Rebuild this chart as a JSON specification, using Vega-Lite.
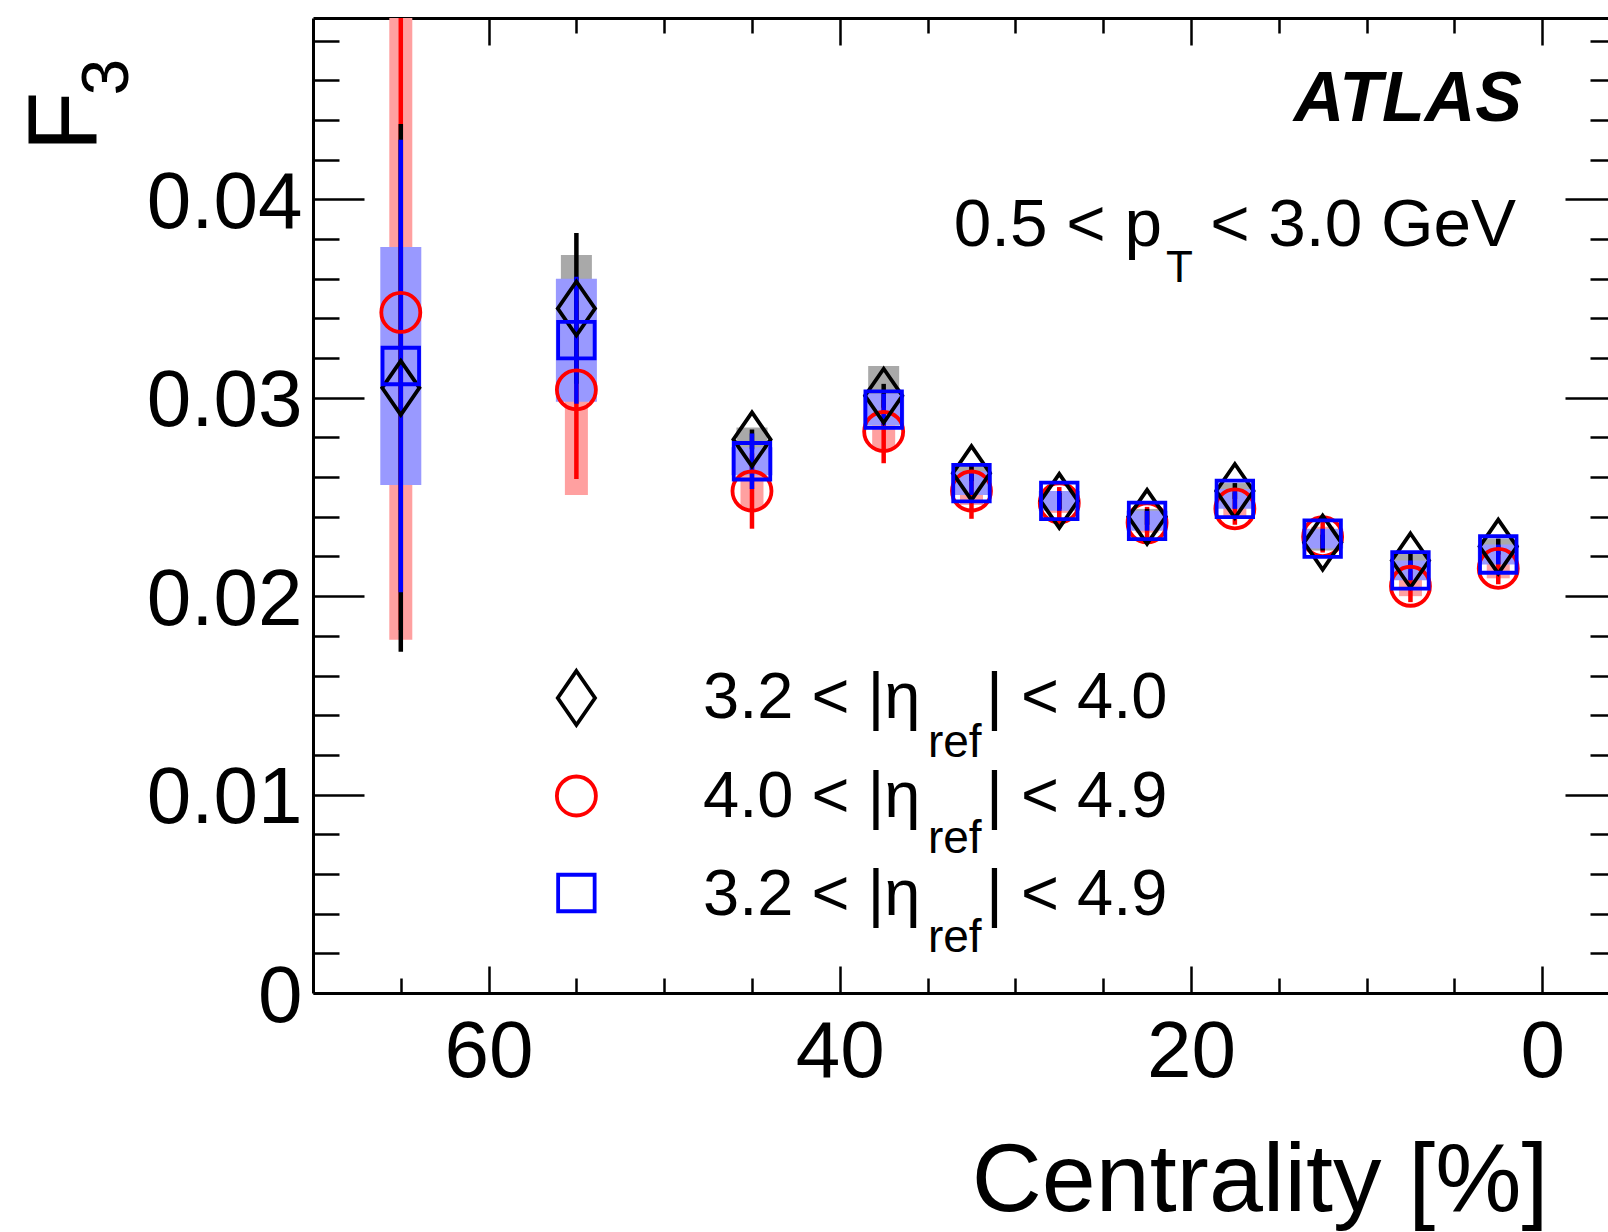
{
  "$schema": "https://vega.github.io/schema/vega-lite/v6.json",
  "autosize": "none",
  "width": 1295,
  "height": 975,
  "padding": {"left": 313, "top": 18, "right": 0, "bottom": 239},
  "background": "white",
  "datasets": {
    "f3": [
      {"series": "eta_3.2_4.0", "cent": 65, "F3": 0.0305, "stat": 0.0133, "syst": 0.0040},
      {"series": "eta_3.2_4.0", "cent": 55, "F3": 0.0345, "stat": 0.0038, "syst": 0.0027},
      {"series": "eta_3.2_4.0", "cent": 45, "F3": 0.0279, "stat": 0.0005, "syst": 0.0006},
      {"series": "eta_3.2_4.0", "cent": 37.5, "F3": 0.0301, "stat": 0.0006, "syst": 0.0015},
      {"series": "eta_3.2_4.0", "cent": 32.5, "F3": 0.0262, "stat": 0.0004, "syst": 0.0005},
      {"series": "eta_3.2_4.0", "cent": 27.5, "F3": 0.0248, "stat": 0.0004, "syst": 0.0004},
      {"series": "eta_3.2_4.0", "cent": 22.5, "F3": 0.0240, "stat": 0.0004, "syst": 0.0004},
      {"series": "eta_3.2_4.0", "cent": 17.5, "F3": 0.0253, "stat": 0.0004, "syst": 0.0004},
      {"series": "eta_3.2_4.0", "cent": 12.5, "F3": 0.0227, "stat": 0.0004, "syst": 0.0004},
      {"series": "eta_3.2_4.0", "cent": 7.5, "F3": 0.0218, "stat": 0.0004, "syst": 0.0004},
      {"series": "eta_3.2_4.0", "cent": 2.5, "F3": 0.0225, "stat": 0.0004, "syst": 0.0004},
      {"series": "eta_4.0_4.9", "cent": 65, "F3": 0.0343, "stat": 0.0160, "syst": 0.0165},
      {"series": "eta_4.0_4.9", "cent": 55, "F3": 0.0304, "stat": 0.0045, "syst": 0.0053},
      {"series": "eta_4.0_4.9", "cent": 45, "F3": 0.0253, "stat": 0.0019, "syst": 0.0009},
      {"series": "eta_4.0_4.9", "cent": 37.5, "F3": 0.0283, "stat": 0.0016, "syst": 0.0009},
      {"series": "eta_4.0_4.9", "cent": 32.5, "F3": 0.0253, "stat": 0.0014, "syst": 0.0007},
      {"series": "eta_4.0_4.9", "cent": 27.5, "F3": 0.0247, "stat": 0.0008, "syst": 0.0005},
      {"series": "eta_4.0_4.9", "cent": 22.5, "F3": 0.0237, "stat": 0.0008, "syst": 0.0005},
      {"series": "eta_4.0_4.9", "cent": 17.5, "F3": 0.0244, "stat": 0.0008, "syst": 0.0005},
      {"series": "eta_4.0_4.9", "cent": 12.5, "F3": 0.0230, "stat": 0.0008, "syst": 0.0005},
      {"series": "eta_4.0_4.9", "cent": 7.5, "F3": 0.0205, "stat": 0.0008, "syst": 0.0005},
      {"series": "eta_4.0_4.9", "cent": 2.5, "F3": 0.0214, "stat": 0.0008, "syst": 0.0005},
      {"series": "eta_3.2_4.9", "cent": 65, "F3": 0.0316, "stat": 0.0114, "syst": 0.0060},
      {"series": "eta_3.2_4.9", "cent": 55, "F3": 0.0329, "stat": 0.0032, "syst": 0.0031},
      {"series": "eta_3.2_4.9", "cent": 45, "F3": 0.0268, "stat": 0.0014, "syst": 0.0007},
      {"series": "eta_3.2_4.9", "cent": 37.5, "F3": 0.0294, "stat": 0.0008, "syst": 0.0008},
      {"series": "eta_3.2_4.9", "cent": 32.5, "F3": 0.0257, "stat": 0.0006, "syst": 0.0006},
      {"series": "eta_3.2_4.9", "cent": 27.5, "F3": 0.0248, "stat": 0.0005, "syst": 0.0005},
      {"series": "eta_3.2_4.9", "cent": 22.5, "F3": 0.0238, "stat": 0.0005, "syst": 0.0005},
      {"series": "eta_3.2_4.9", "cent": 17.5, "F3": 0.0249, "stat": 0.0005, "syst": 0.0005},
      {"series": "eta_3.2_4.9", "cent": 12.5, "F3": 0.0229, "stat": 0.0005, "syst": 0.0005},
      {"series": "eta_3.2_4.9", "cent": 7.5, "F3": 0.0213, "stat": 0.0005, "syst": 0.0005},
      {"series": "eta_3.2_4.9", "cent": 2.5, "F3": 0.0221, "stat": 0.0005, "syst": 0.0005}
    ]
  },
  "data": {"name": "f3"},
  "resolve": {"axis": {"x": "independent", "y": "independent"}},
  "layer": [
    {
      "transform": [{"filter": "datum.series === 'eta_3.2_4.0'"}],
      "mark": {"type": "errorbar", "thickness": 31, "color": "#A9A9A9", "ticks": false},
      "encoding": {
        "x": {"field": "cent", "type": "quantitative", "scale": {"domain": [70, -3.75], "nice": false, "zero": false},
          "axis": {"orient": "bottom", "values": [0, 20, 40, 60], "format": "d", "ticks": false, "domain": true, "domainWidth": 3, "labels": true, "labelPadding": 20, "labelFontSize": 80,
            "title": "Centrality [%]", "titleFontSize": 97, "titleX": 1235, "titleY": 217, "titleAlign": "right", "titleBaseline": "alphabetic"}},
        "y": {"field": "F3", "type": "quantitative", "scale": {"domain": [0, 0.04914], "nice": false, "zero": false, "clamp": true},
          "axis": {"orient": "left", "values": [0, 0.01, 0.02, 0.03, 0.04], "labelExpr": "datum.value == 0 ? '0' : format(datum.value, '.2f')", "ticks": false, "domain": true, "domainWidth": 3, "labels": true, "labelPadding": 11, "labelFontSize": 80, "labelOffset": 4,
            "title": "F", "titleFontSize": 98, "titleAngle": 270, "titleX": -218, "titleY": 133, "titleAlign": "left", "titleBaseline": "alphabetic"}},
        "yError": {"field": "syst"}
      }
    },
    {
      "transform": [{"filter": "datum.series === 'eta_4.0_4.9'"}],
      "mark": {"type": "errorbar", "thickness": 23, "color": "#FFA0A0", "ticks": false},
      "encoding": {
        "x": {"field": "cent", "type": "quantitative", "scale": {"domain": [70, -3.75], "nice": false, "zero": false},
          "axis": {"orient": "bottom", "values": [0, 20, 40, 60], "ticks": true, "tickSize": -27, "domain": false, "labels": false, "title": null}},
        "y": {"field": "F3", "type": "quantitative", "scale": {"domain": [0, 0.04914], "nice": false, "zero": false, "clamp": true},
          "axis": {"orient": "left", "values": [0, 0.01, 0.02, 0.03, 0.04], "ticks": true, "tickSize": -51, "domain": false, "labels": false,
            "title": "3", "titleFontSize": 66, "titleAngle": 270, "titleX": -186, "titleY": 77, "titleAlign": "left", "titleBaseline": "alphabetic"}},
        "yError": {"field": "syst"}
      }
    },
    {
      "transform": [{"filter": "datum.series === 'eta_3.2_4.9'"}],
      "mark": {"type": "errorbar", "thickness": 41, "color": "#9999FF", "ticks": false},
      "encoding": {
        "x": {"field": "cent", "type": "quantitative", "scale": {"domain": [70, -3.75], "nice": false, "zero": false},
          "axis": {"orient": "bottom", "values": [5, 10, 15, 25, 30, 35, 45, 50, 55, 65], "ticks": true, "tickSize": -15, "domain": false, "labels": false, "title": null}},
        "y": {"field": "F3", "type": "quantitative", "scale": {"domain": [0, 0.04914], "nice": false, "zero": false, "clamp": true},
          "axis": {"orient": "left", "values": [0.002, 0.004, 0.006, 0.008, 0.012, 0.014, 0.016, 0.018, 0.022, 0.024, 0.026, 0.028, 0.032, 0.034, 0.036, 0.038, 0.042, 0.044, 0.046, 0.048], "ticks": true, "tickSize": -26, "domain": false, "labels": false, "title": null}},
        "yError": {"field": "syst"}
      }
    },
    {
      "transform": [{"filter": "datum.series === 'eta_4.0_4.9'"}],
      "mark": {"type": "errorbar", "thickness": 4.5, "color": "#FF0000", "ticks": false},
      "encoding": {
        "x": {"field": "cent", "type": "quantitative", "scale": {"domain": [70, -3.75], "nice": false, "zero": false},
          "axis": {"orient": "top", "values": [0, 20, 40, 60], "ticks": true, "tickSize": -27, "domain": true, "domainWidth": 3, "labels": false, "title": null}},
        "y": {"field": "F3", "type": "quantitative", "scale": {"domain": [0, 0.04914], "nice": false, "zero": false, "clamp": true},
          "axis": {"orient": "right", "offset": 8, "values": [0, 0.01, 0.02, 0.03, 0.04], "ticks": true, "tickSize": -51, "domain": false, "labels": false, "title": null}},
        "yError": {"field": "stat"}
      }
    },
    {
      "transform": [{"filter": "datum.series === 'eta_3.2_4.0'"}],
      "mark": {"type": "errorbar", "thickness": 4.5, "color": "#000000", "ticks": false},
      "encoding": {
        "x": {"field": "cent", "type": "quantitative", "scale": {"domain": [70, -3.75], "nice": false, "zero": false},
          "axis": {"orient": "top", "values": [5, 10, 15, 25, 30, 35, 45, 50, 55, 65], "ticks": true, "tickSize": -15, "domain": false, "labels": false, "title": null}},
        "y": {"field": "F3", "type": "quantitative", "scale": {"domain": [0, 0.04914], "nice": false, "zero": false, "clamp": true},
          "axis": {"orient": "right", "offset": 8, "values": [0.002, 0.004, 0.006, 0.008, 0.012, 0.014, 0.016, 0.018, 0.022, 0.024, 0.026, 0.028, 0.032, 0.034, 0.036, 0.038, 0.042, 0.044, 0.046, 0.048], "ticks": true, "tickSize": -26, "domain": false, "labels": false, "title": null}},
        "yError": {"field": "stat"}
      }
    },
    {
      "transform": [{"filter": "datum.series === 'eta_3.2_4.9'"}],
      "mark": {"type": "errorbar", "thickness": 4.5, "color": "#0000FF", "ticks": false},
      "encoding": {
        "x": {"field": "cent", "type": "quantitative", "scale": {"domain": [70, -3.75], "nice": false, "zero": false}, "axis": null},
        "y": {"field": "F3", "type": "quantitative", "scale": {"domain": [0, 0.04914], "nice": false, "zero": false, "clamp": true}, "axis": null},
        "yError": {"field": "stat"}
      }
    },
    {
      "transform": [{"filter": "datum.series === 'eta_4.0_4.9'"}],
      "mark": {"type": "point", "shape": "circle", "size": 1521, "filled": false, "stroke": "#FF0000", "strokeWidth": 3.8, "opacity": 1},
      "encoding": {
        "x": {"field": "cent", "type": "quantitative", "scale": {"domain": [70, -3.75], "nice": false, "zero": false}, "axis": null},
        "y": {"field": "F3", "type": "quantitative", "scale": {"domain": [0, 0.04914], "nice": false, "zero": false, "clamp": true}, "axis": null}
      }
    },
    {
      "transform": [{"filter": "datum.series === 'eta_3.2_4.0'"}],
      "mark": {"type": "point", "shape": "M0,-1L0.69,0L0,1L-0.69,0Z", "size": 2916, "filled": false, "stroke": "#000000", "strokeWidth": 3.8, "opacity": 1},
      "encoding": {
        "x": {"field": "cent", "type": "quantitative", "scale": {"domain": [70, -3.75], "nice": false, "zero": false}, "axis": null},
        "y": {"field": "F3", "type": "quantitative", "scale": {"domain": [0, 0.04914], "nice": false, "zero": false, "clamp": true}, "axis": null}
      }
    },
    {
      "transform": [{"filter": "datum.series === 'eta_3.2_4.9'"}],
      "mark": {"type": "point", "shape": "square", "size": 1332, "filled": false, "stroke": "#0000FF", "strokeWidth": 3.8, "opacity": 1},
      "encoding": {
        "x": {"field": "cent", "type": "quantitative", "scale": {"domain": [70, -3.75], "nice": false, "zero": false}, "axis": null},
        "y": {"field": "F3", "type": "quantitative", "scale": {"domain": [0, 0.04914], "nice": false, "zero": false, "clamp": true}, "axis": null}
      }
    },
    {
      "data": {"values": [{}]},
      "mark": {"type": "text", "text": "ATLAS", "fontSize": 70, "fontWeight": "bold", "fontStyle": "italic", "align": "right", "baseline": "alphabetic", "color": "#000000"},
      "encoding": {
        "x": {"datum": 1.15, "type": "quantitative", "scale": {"domain": [70, -3.75], "nice": false, "zero": false}, "axis": null},
        "y": {"datum": 0.04395, "type": "quantitative", "scale": {"domain": [0, 0.04914], "nice": false, "zero": false, "clamp": true}, "axis": null}
      }
    },
    {
      "data": {"values": [{}]},
      "mark": {"type": "text", "text": "0.5 < p", "fontSize": 67.5, "align": "right", "baseline": "alphabetic", "color": "#000000"},
      "encoding": {
        "x": {"datum": 21.65, "type": "quantitative", "scale": {"domain": [70, -3.75], "nice": false, "zero": false}, "axis": null},
        "y": {"datum": 0.03765, "type": "quantitative", "scale": {"domain": [0, 0.04914], "nice": false, "zero": false, "clamp": true}, "axis": null}
      }
    },
    {
      "data": {"values": [{}]},
      "mark": {"type": "text", "text": "T", "fontSize": 44, "align": "left", "baseline": "alphabetic", "color": "#000000"},
      "encoding": {
        "x": {"datum": 21.42, "type": "quantitative", "scale": {"domain": [70, -3.75], "nice": false, "zero": false}, "axis": null},
        "y": {"datum": 0.03584, "type": "quantitative", "scale": {"domain": [0, 0.04914], "nice": false, "zero": false, "clamp": true}, "axis": null}
      }
    },
    {
      "data": {"values": [{}]},
      "mark": {"type": "text", "text": "< 3.0 GeV", "fontSize": 67.5, "align": "right", "baseline": "alphabetic", "color": "#000000"},
      "encoding": {
        "x": {"datum": 1.49, "type": "quantitative", "scale": {"domain": [70, -3.75], "nice": false, "zero": false}, "axis": null},
        "y": {"datum": 0.03765, "type": "quantitative", "scale": {"domain": [0, 0.04914], "nice": false, "zero": false, "clamp": true}, "axis": null}
      }
    },
    {
      "data": {"values": [{}]},
      "mark": {"type": "point", "shape": "M0,-1L0.69,0L0,1L-0.69,0Z", "size": 2916, "filled": false, "stroke": "#000000", "strokeWidth": 3.8, "opacity": 1},
      "encoding": {
        "x": {"datum": 55, "type": "quantitative", "scale": {"domain": [70, -3.75], "nice": false, "zero": false}, "axis": null},
        "y": {"datum": 0.01487, "type": "quantitative", "scale": {"domain": [0, 0.04914], "nice": false, "zero": false, "clamp": true}, "axis": null}
      }
    },
    {
      "data": {"values": [{}]},
      "mark": {"type": "point", "shape": "circle", "size": 1521, "filled": false, "stroke": "#FF0000", "strokeWidth": 3.8, "opacity": 1},
      "encoding": {
        "x": {"datum": 55, "type": "quantitative", "scale": {"domain": [70, -3.75], "nice": false, "zero": false}, "axis": null},
        "y": {"datum": 0.00993, "type": "quantitative", "scale": {"domain": [0, 0.04914], "nice": false, "zero": false, "clamp": true}, "axis": null}
      }
    },
    {
      "data": {"values": [{}]},
      "mark": {"type": "point", "shape": "square", "size": 1332, "filled": false, "stroke": "#0000FF", "strokeWidth": 3.8, "opacity": 1},
      "encoding": {
        "x": {"datum": 55, "type": "quantitative", "scale": {"domain": [70, -3.75], "nice": false, "zero": false}, "axis": null},
        "y": {"datum": 0.00504, "type": "quantitative", "scale": {"domain": [0, 0.04914], "nice": false, "zero": false, "clamp": true}, "axis": null}
      }
    },
    {
      "data": {"values": [{"t": "3.2 < |η", "y": 0.013861}, {"t": "4.0 < |η", "y": 0.008886}, {"t": "3.2 < |η", "y": 0.003931}]},
      "mark": {"type": "text", "fontSize": 65, "align": "left", "baseline": "alphabetic", "color": "#000000"},
      "encoding": {
        "text": {"field": "t"},
        "x": {"datum": 47.79, "type": "quantitative", "scale": {"domain": [70, -3.75], "nice": false, "zero": false}, "axis": null},
        "y": {"field": "y", "type": "quantitative", "scale": {"domain": [0, 0.04914], "nice": false, "zero": false, "clamp": true}, "axis": null}
      }
    },
    {
      "data": {"values": [{"t": "ref", "y": 0.011895}, {"t": "ref", "y": 0.007056}, {"t": "ref", "y": 0.002067}]},
      "mark": {"type": "text", "fontSize": 46, "align": "left", "baseline": "alphabetic", "color": "#000000"},
      "encoding": {
        "text": {"field": "t"},
        "x": {"datum": 34.98, "type": "quantitative", "scale": {"domain": [70, -3.75], "nice": false, "zero": false}, "axis": null},
        "y": {"field": "y", "type": "quantitative", "scale": {"domain": [0, 0.04914], "nice": false, "zero": false, "clamp": true}, "axis": null}
      }
    },
    {
      "data": {"values": [{"t": "| < 4.0", "y": 0.013861}, {"t": "| < 4.9", "y": 0.008886}, {"t": "| < 4.9", "y": 0.003931}]},
      "mark": {"type": "text", "fontSize": 65, "align": "left", "baseline": "alphabetic", "color": "#000000"},
      "encoding": {
        "text": {"field": "t"},
        "x": {"datum": 31.67, "type": "quantitative", "scale": {"domain": [70, -3.75], "nice": false, "zero": false}, "axis": null},
        "y": {"field": "y", "type": "quantitative", "scale": {"domain": [0, 0.04914], "nice": false, "zero": false, "clamp": true}, "axis": null}
      }
    }
  ],
  "config": {
    "view": {"stroke": null},
    "font": "Liberation Sans",
    "axis": {"grid": false, "labelFont": "Liberation Sans", "titleFont": "Liberation Sans", "labelColor": "#000000", "tickColor": "#000000", "domainColor": "#000000", "titleColor": "#000000", "titleFontWeight": "normal", "tickWidth": 2.5, "labelFlush": false, "labelOverlap": false, "labelBound": false, "titlePadding": 0},
    "text": {"font": "Liberation Sans"}
  }
}
